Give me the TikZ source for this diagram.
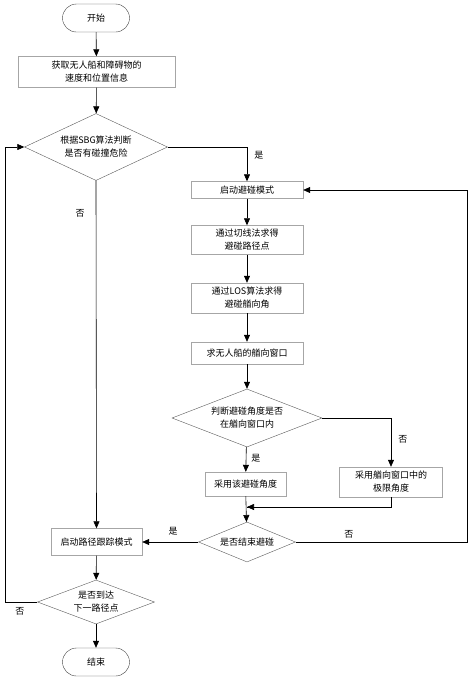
\documentclass[tikz,border=0pt]{standalone}
\usepackage{fontspec}
\newfontfamily\cjk{Noto Sans CJK SC}
\usetikzlibrary{shapes.geometric,shapes.misc,arrows.meta}
\tikzset{
    flow-text/.style = {font=\cjk\fontsize{9}{13}\selectfont, align=center, inner sep=0pt},
    flow-box/.style = {flow-text, draw=black!35, thin, rectangle, minimum height=30pt},
    flow-cond/.style = {flow-text, draw=black!65, thin, diamond},
    flow-end/.style = {flow-text, draw=black!75, thin, rounded rectangle, minimum width=67pt, minimum height=28pt},
    flow-arrow/.style = {-{Triangle[length=7pt,width=6pt]}, semithick},
    flow-line/.style = {semithick},
    flow-label/.style = {font=\cjk\fontsize{9}{11}\selectfont, inner sep=1pt},
}
\begin{document}
\begin{tikzpicture}[x=1pt,y=-1pt]
\useasboundingbox (0,0) rectangle (474,683);
% left column
\node[flow-end] (start) at (96,18) {开始};
\node[flow-box, minimum width=157pt, minimum height=31pt] (info) at (96.5,72) {获取无人船和障碍物的\\速度和位置信息};
\node[flow-cond, minimum width=143pt, minimum height=67pt, aspect=2.1] (sbg) at (96,147) {根据SBG算法判断\\是否有碰撞危险};
\node[flow-box, minimum width=91pt, minimum height=27pt] (track) at (96.5,542) {启动路径跟踪模式};
\node[flow-cond, minimum width=117pt, minimum height=44pt, aspect=2.66] (reach) at (96,602) {是否到达\\下一路径点};
\node[flow-end] (stop) at (96,662) {结束};
% right column
\node[flow-box, minimum width=112pt, minimum height=17pt] (avoid) at (247,190) {启动避碰模式};
\node[flow-box, minimum width=112pt, minimum height=29pt] (tangent) at (247,240) {通过切线法求得\\避碰路径点};
\node[flow-box, minimum width=112pt, minimum height=30pt] (los) at (247,298) {通过LOS算法求得\\避碰艏向角};
\node[flow-box, minimum width=112pt, minimum height=22pt] (window) at (247,353) {求无人船的艏向窗口};
\node[flow-cond, minimum width=150pt, minimum height=58pt, aspect=2.6] (inwin) at (247,418) {判断避碰角度是否\\在艏向窗口内};
\node[flow-box, minimum width=81pt, minimum height=24pt] (keep) at (245.5,484) {采用该避碰角度};
\node[flow-box, minimum width=103pt, minimum height=30pt] (limit) at (391,482) {采用艏向窗口中的\\极限角度};
\node[flow-cond, minimum width=97pt, minimum height=40pt, aspect=2.4] (finish) at (247,542) {是否结束避碰};
% helper points
\coordinate (join) at (247,507);
\coordinate (leftrail) at (5,147);
\coordinate (rightrail) at (467,190);
% connectors
\draw[flow-arrow] (start) -- (info);
\draw[flow-arrow] (info) -- (sbg);
\draw[flow-arrow] (sbg.east) -| node[flow-label, pos=0.62, right=6pt] {是} (avoid.north);
\draw[flow-arrow] (sbg.south) -- node[flow-label, pos=0.095, left=10pt] {否} (track.north);
\draw[flow-arrow] (avoid) -- (tangent);
\draw[flow-arrow] (tangent) -- (los);
\draw[flow-arrow] (los) -- (window);
\draw[flow-arrow] (window) -- (inwin);
\draw[flow-arrow] (inwin) -- node[flow-label, pos=0.45, right=4pt] {是} (keep);
\draw[flow-arrow] (inwin.east) -| node[flow-label, pos=0.72, right=6pt] {否} (limit.north);
\draw[flow-line] (limit.south) |- (join);
\draw[flow-arrow] (limit.south |- join) -- (join);
\draw[flow-arrow] (keep) -- (finish);
\draw[flow-arrow] (finish.west) -- node[flow-label, pos=0.45, above=5pt] {是} (track.east);
\draw[flow-arrow] (finish.east) -| node[flow-label, pos=0.155, above=2pt] {否} (rightrail) -- (avoid.east);
\draw[flow-arrow] (track) -- (reach);
\draw[flow-arrow] (reach.west) -| node[flow-label, pos=0.27, below=4pt] {否} (leftrail) -- (sbg.west);
\draw[flow-arrow] (reach) -- (stop);
\end{tikzpicture}
\end{document}
